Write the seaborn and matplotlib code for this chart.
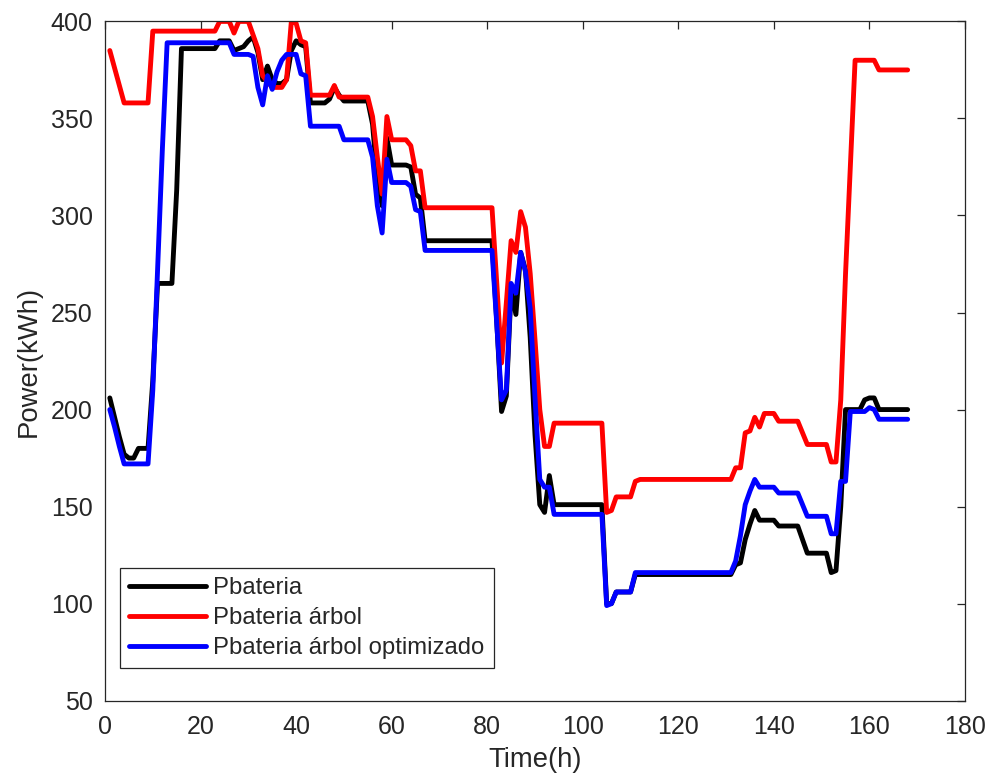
import matplotlib
matplotlib.use("Agg")
import matplotlib.pyplot as plt
import numpy as np
import pandas as pd
import seaborn as sns

# Hourly battery power over one week (kWh)
hours = list(range(1, 169))

p_bateria = [
    206, 196, 186, 177, 175, 175, 180, 180, 180, 215,
    265, 265, 265, 265, 313, 386, 386, 386, 386, 386,
    386, 386, 386, 390, 390, 390, 385, 386, 387, 390,
    392, 384, 370, 377, 370, 368, 368, 370, 385, 390,
    388, 387, 358, 358, 358, 358, 360, 366, 362, 359,
    359, 359, 359, 359, 359, 347, 318, 305, 340, 326,
    326, 326, 326, 325, 311, 309, 287, 287, 287, 287,
    287, 287, 287, 287, 287, 287, 287, 287, 287, 287,
    287, 245, 199, 207, 262, 249, 281, 272, 237, 187,
    151, 147, 166, 151, 151, 151, 151, 151, 151, 151,
    151, 151, 151, 151, 100, 100, 106, 106, 106, 106,
    115, 115, 115, 115, 115, 115, 115, 115, 115, 115,
    115, 115, 115, 115, 115, 115, 115, 115, 115, 115,
    115, 120, 121, 133, 141, 148, 143, 143, 143, 143,
    140, 140, 140, 140, 140, 133, 126, 126, 126, 126,
    126, 116, 117, 150, 200, 200, 200, 200, 205, 206,
    206, 200, 200, 200, 200, 200, 200, 200,
]

p_arbol = [
    385, 376, 367, 358, 358, 358, 358, 358, 358, 395,
    395, 395, 395, 395, 395, 395, 395, 395, 395, 395,
    395, 395, 395, 400, 400, 400, 394, 400, 400, 400,
    393, 386, 372, 369, 366, 366, 366, 370, 400, 399,
    390, 389, 362, 362, 362, 362, 362, 367, 361, 361,
    361, 361, 361, 361, 361, 351, 330, 311, 351, 339,
    339, 339, 339, 336, 323, 323, 304, 304, 304, 304,
    304, 304, 304, 304, 304, 304, 304, 304, 304, 304,
    304, 265, 224, 255, 287, 281, 302, 294, 270, 236,
    200, 181, 181, 193, 193, 193, 193, 193, 193, 193,
    193, 193, 193, 193, 147, 148, 155, 155, 155, 155,
    163, 164, 164, 164, 164, 164, 164, 164, 164, 164,
    164, 164, 164, 164, 164, 164, 164, 164, 164, 164,
    164, 170, 170, 188, 189, 196, 191, 198, 198, 198,
    194, 194, 194, 194, 194, 188, 182, 182, 182, 182,
    182, 173, 173, 205, 270, 325, 380, 380, 380, 380,
    380, 375, 375, 375, 375, 375, 375, 375,
]

p_optimizado = [
    200, 191, 181, 172, 172, 172, 172, 172, 172, 210,
    272, 334, 389, 389, 389, 389, 389, 389, 389, 389,
    389, 389, 389, 389, 389, 389, 383, 383, 383, 383,
    382, 366, 357, 372, 365, 374, 380, 383, 383, 383,
    373, 372, 346, 346, 346, 346, 346, 346, 346, 339,
    339, 339, 339, 339, 339, 330, 305, 291, 329, 317,
    317, 317, 317, 315, 303, 302, 282, 282, 282, 282,
    282, 282, 282, 282, 282, 282, 282, 282, 282, 282,
    282, 244, 205, 210, 265, 260, 281, 271, 252, 206,
    164, 160, 160, 146, 146, 146, 146, 146, 146, 146,
    146, 146, 146, 146, 99, 100, 106, 106, 106, 106,
    116, 116, 116, 116, 116, 116, 116, 116, 116, 116,
    116, 116, 116, 116, 116, 116, 116, 116, 116, 116,
    116, 122, 135, 151, 158, 164, 160, 160, 160, 160,
    157, 157, 157, 157, 157, 151, 145, 145, 145, 145,
    145, 136, 136, 163, 163, 199, 199, 199, 199, 201,
    200, 195, 195, 195, 195, 195, 195, 195,
]

series_names = ["Pbateria", "Pbateria árbol", "Pbateria árbol optimizado"]
series_colors = ["#000000", "#ff0000", "#0000ff"]

x_ticks = list(range(0, 181, 20))
y_ticks = list(range(50, 401, 50))

df = pd.concat(
    [
        pd.DataFrame({"hour": hours, "power": vals, "serie": name})
        for name, vals in zip(series_names, [p_bateria, p_arbol, p_optimizado])
    ],
    ignore_index=True,
)

sns.set_theme(style="white")
plt.rcParams["font.family"] = ["Liberation Sans", "DejaVu Sans"]
plt.rcParams["text.color"] = "#262626"

edge = "#262626"
line_w = 3.5

fig = plt.figure(figsize=(9.88, 7.82), dpi=100)
ax = fig.add_axes([0.1063, 0.104, 0.8704, 0.8686])

sns.lineplot(
    data=df, x="hour", y="power", hue="serie",
    hue_order=series_names, palette=series_colors,
    linewidth=line_w, estimator=None, sort=False, ax=ax,
)

ax.set_xlim(0, 180)
ax.set_ylim(50, 400)
ax.set_xticks(x_ticks)
ax.set_yticks(y_ticks)
ax.grid(False)

for side in ["left", "right", "top", "bottom"]:
    ax.spines[side].set_visible(True)
    ax.spines[side].set_color(edge)
    ax.spines[side].set_linewidth(0.9)

ax.tick_params(axis="both", which="both", direction="in", length=6,
               width=0.9, color=edge, labelcolor=edge, labelsize=18,
               top=True, right=True)
ax.tick_params(axis="x", pad=10)
ax.tick_params(axis="y", pad=9)

ax.set_xlabel("Time(h)", fontsize=19.8, color=edge, labelpad=6)
ax.set_ylabel("Power(kWh)", fontsize=19.8, color=edge, labelpad=6)

old = ax.get_legend()
handles = old.legend_handles
labels = [t.get_text() for t in old.get_texts()]
old.remove()
leg = ax.legend(
    handles, labels, loc="lower left", bbox_to_anchor=(0.0174, 0.048),
    borderaxespad=0, fancybox=False, framealpha=1, edgecolor=edge,
    fontsize=17.2, handlelength=3.2, handletextpad=0.33,
    labelspacing=0.33, borderpad=0.38,
)
leg.get_frame().set_linewidth(0.9)
for h in leg.legend_handles:
    h.set_linewidth(line_w)

fig.savefig("out.png", dpi=100, facecolor="white")
